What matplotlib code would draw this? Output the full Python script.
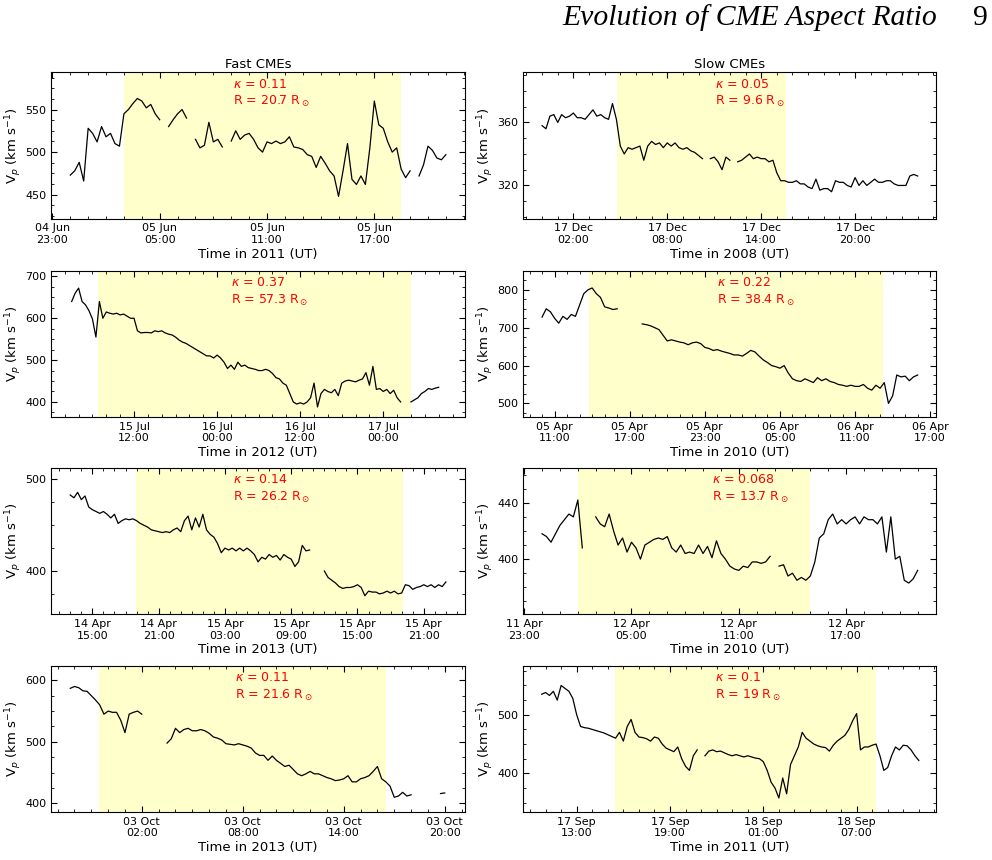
import numpy as np
import pandas as pd
import matplotlib
matplotlib.use('Agg')
import matplotlib.pyplot as plt
import matplotlib.dates as mdates
from matplotlib.ticker import MultipleLocator, AutoMinorLocator

nan = np.nan

# Solar wind proton speed (km/s)
# Fast CMEs (left column)
fast1_start, fast1_step = '2011-06-05 00:00', '15min'
fast1_vp = [473, 478, 488, 466, 528, 522, 512, 530, 518, 522, 510, 507,
            545, 550, 557, 563, 560, 552, 556, 545, 538, nan, 530, 538,
            545, 550, 540, nan, 515, 505, 508, 535, 512, 515, 506, nan,
            513, 525, 515, 520, 522, 515, 505, 500, 512, 510, 513, 510,
            512, 518, 506, 505, 503, 497, 495, 482, 495, 487, 478, 472,
            448, 478, 510, 468, 462, 472, 462, 505, 560, 532, 528, 512,
            500, 505, 480, 470, 478, nan, 472, 485, 507, 502, 493, 491,
            497]

fast2_start, fast2_step = '2012-07-15 03:00', '30min'
fast2_vp = [640, 660, 672, 640, 632, 618, 598, 555, 640, 600,
            615, 612, 610, 612, 608, 610, 605, 600, 600, 570,
            565, 566, 566, 565, 570, 568, 570, 565, 562, 560,
            555, 548, 543, 540, 535, 530, 525, 520, 515, 510,
            510, 505, 512, 505, 495, 480, 488, 478, 495, 485,
            488, 482, 480, 478, 475, 475, 478, 475, 468, 458,
            455, 445, 440, 420, 400, 395, 398, 395, 400, 410,
            445, 388, 420, 430, 425, 422, 430, 415, 445, 450,
            452, 450, 448, 452, 455, 470, 440, 485, 430, 432,
            425, 430, 420, 428, 410, 400, nan, nan, 400, 405,
            410, 420, 425, 432, 430, 433, 435]

fast3_start, fast3_step = '2013-04-14 13:00', '20min'
fast3_vp = [483, 480, 486, 478, 482, 470, 467, 465, 463, 465, 462, 458,
            462, 452, 455, 457, 456, 457, 455, 452, 450, 448, 445, 444,
            443, 442, 443, 442, 445, 447, 443, 455, 460, 445, 458, 448,
            462, 445, 440, 437, 430, 420, 425, 423, 425, 422, 425, 422,
            425, 422, 418, 410, 415, 413, 418, 415, 417, 412, 418, 415,
            413, 405, 410, 428, 422, 423, nan, nan, nan, 400, 393, 390,
            387, 383, 381, 382, 382, 383, 385, 382, 373, 378, 377, 377,
            375, 376, 378, 376, 378, 375, 376, 385, 384, 380, 382, 383,
            385, 383, 385, 382, 385, 383, 388]

fast4_start, fast4_step = '2013-10-02 21:45', '15min'
fast4_vp = [587, 590, 588, 583, 582, 575, 568, 560, 545,
            550, 548, 548, 535, 515, 545, 548, 550, 545, nan, nan, nan,
            nan, nan, 498, 505, 522, 515, 520, 522, 518, 518, 520, 518,
            514, 508, 506, 503, 497, 496, 495, 497, 495, 493, 490, 482,
            478, 478, 470, 477, 470, 465, 460, 462, 455, 448, 445, 448,
            452, 448, 448, 445, 442, 440, 437, 438, 440, 445, 435, 435,
            440, 442, 445, 452, 460, 440, 435, 428, 410, 412, 418, 412,
            414, nan, nan, nan, nan, nan, nan, 416, 417]

# Slow CMEs (right column)
slow1_start, slow1_step = '2008-12-17 00:00', '15min'
slow1_vp = [358, 356, 364, 365, 360, 365, 363, 364, 366, 363, 363, 362,
            365, 368, 364, 365, 363, 362, 372, 362, 345, 340, 344, 343,
            344, 345, 336, 345, 348, 346, 347, 344, 347, 345, 347, 344,
            343, 344, 342, 341, 339, 337, nan, 337, 338, 335, 330, 338,
            336, nan, 335, 336, 338, 340, 337, 338, 337, 337, 335, 336,
            328, 323, 323, 322, 322, 323, 321, 321, 319, 318, 324, 317,
            318, 318, 316, 323, 322, 322, 320, 319, 325, 320, 323, 320,
            322, 324, 322, 322, 323, 323, 321, 320, 320, 320, 326, 327,
            326]

slow2_start, slow2_step = '2010-04-05 10:00', '20min'
slow2_vp = [728, 750, 742, 725, 712, 730, 722, 735, 730, 760, 790, 800,
            805, 790, 780, 755, 752, 748, 750, nan, nan, nan, nan, nan,
            710, 708, 705, 700, 695, 680, 665, 668, 665, 662, 660, 655,
            660, 662, 658, 648, 645, 640, 642, 638, 635, 632, 628, 628,
            625, 632, 640, 636, 625, 615, 608, 600, 597, 593, 600, 580,
            565, 560, 558, 565, 560, 555, 568, 560, 565, 558, 555, 550,
            548, 545, 548, 545, 545, 550, 540, 535, 548, 540, 555, 500,
            520, 575, 570, 572, 560, 570, 575]

slow3_start, slow3_step = '2010-04-12 00:00', '15min'
slow3_vp = [418, 416, 412, 418, 424, 428, 432, 430, 442, 408, nan, nan,
            430, 425, 423, 432, 420, 410, 415, 405, 412, 408, 400, 410,
            412, 414, 415, 414, 416, 408, 405, 410, 404, 405, 404, 410,
            404, 409, 401, 413, 404, 400, 395, 393, 392, 395, 394, 398,
            398, 397, 398, 402, nan, 395, 396, 388, 390, 385, 387, 385,
            388, 398, 415, 418, 428, 432, 425, 428, 425, 428, 430, 425,
            430, 428, 428, 425, 430, 405, 430, 400, 402, 385, 383, 386,
            392]

slow4_start, slow4_step = '2011-09-17 10:45', '15min'
slow4_vp = [535, 538, 533, 540, 525, 550, 545, 540, 528, 500, 480, 478,
            477, 475, 473, 471, 469, 466, 463, 460, 470, 455, 480, 492,
            470, 462, 461, 459, 455, 462, 460, 450, 443, 440, 437, 445,
            425, 412, 405, 430, 440, nan, 430, 438, 440, 437, 438, 435,
            432, 430, 432, 430, 428, 430, 428, 426, 425, 420, 405, 385,
            375, 358, 392, 365, 415, 430, 445, 470, 460, 455, 450, 447,
            445, 444, 438, 448, 455, 460, 465, 475, 490, 502, 440, 445,
            445, 448, 450, 430, 405, 410, 430, 445, 440, 448, 447, 440,
            430, 422]

# CME passage intervals (shaded) and model parameters
fast_shade = [('2011-06-05 03:00', '2011-06-05 18:28'),
              ('2012-07-15 06:49', '2012-07-17 04:00'),
              ('2013-04-14 18:57', '2013-04-15 19:08'),
              ('2013-10-02 23:26', '2013-10-03 16:32')]
slow_shade = [('2008-12-17 04:46', '2008-12-17 15:35'),
              ('2010-04-05 13:44', '2010-04-06 13:16'),
              ('2010-04-12 02:02', '2010-04-12 15:00'),
              ('2011-09-17 15:29', '2011-09-18 08:13')]
fast_kappa = ['0.11', '0.37', '0.14', '0.11']
fast_radius = ['20.7', '57.3', '26.2', '21.6']
slow_kappa = ['0.05', '0.22', '0.068', '0.1']
slow_radius = ['9.6', '38.4', '13.7', '19']
fast_years = ['2011', '2012', '2013', '2013']
slow_years = ['2008', '2010', '2010', '2011']


def plot_panel(ax, start, step, vp, shade, kappa, radius, year, xlim, ylim,
               ymajor, hours, xmajor_h, text_x):
    """
    Draw one proton speed panel with the shaded CME interval.
    """
    times = pd.date_range(start, periods=len(vp), freq=step)
    ax.axvspan(pd.Timestamp(shade[0]), pd.Timestamp(shade[1]),
               color='yellow', alpha=0.2, lw=0, zorder=0)
    ax.plot(times, vp, color='black', lw=0.9)

    ax.set_xlim(pd.Timestamp(xlim[0]), pd.Timestamp(xlim[1]))
    ax.set_ylim(ylim)

    ax.xaxis.set_major_locator(mdates.HourLocator(byhour=hours))
    ax.xaxis.set_minor_locator(
        mdates.HourLocator(interval=xmajor_h // 6))
    ax.xaxis.set_major_formatter(mdates.DateFormatter('%d %b\n%H:%M'))
    ax.yaxis.set_major_locator(MultipleLocator(ymajor))
    ax.yaxis.set_minor_locator(AutoMinorLocator(4))

    ax.tick_params(which='both', direction='in', top=True, right=True,
                   labelsize=8)
    ax.tick_params(which='major', length=4)
    ax.tick_params(which='minor', length=2)

    ax.set_xlabel(f'Time in {year} (UT)', fontsize=9.5, labelpad=2)
    ax.set_ylabel(r'V$_p$ (km s$^{-1}$)', fontsize=9.5, labelpad=1)
    ax.text(text_x, 0.96,
            rf'$\kappa$ = {kappa}' + '\n' + rf'R = {radius} R$_\odot$',
            transform=ax.transAxes, color='red', fontsize=9,
            va='top', ha='left', linespacing=1.3)


fig = plt.figure(figsize=(9.92, 8.6), dpi=100)

rows_bottom = [0.7459, 0.5151, 0.2860, 0.0558]
height = 0.1703
left_fast, left_slow, width = 0.0519, 0.5275, 0.4165

fast_cfg = [
    (fast1_start, fast1_step, fast1_vp,
     ('2011-06-04 22:57', '2011-06-05 22:03'), (422, 594), 50,
     [5, 11, 17, 23], 6, 0.44),
    (fast2_start, fast2_step, fast2_vp,
     ('2012-07-15 00:05', '2012-07-17 11:45'), (364, 714), 100,
     [0, 12], 12, 0.434),
    (fast3_start, fast3_step, fast3_vp,
     ('2013-04-14 11:18', '2013-04-16 00:42'), (353, 513), 100,
     [3, 9, 15, 21], 6, 0.44),
    (fast4_start, fast4_step, fast4_vp,
     ('2013-10-02 20:38', '2013-10-03 21:11'), (386, 624), 100,
     [2, 8, 14, 20], 6, 0.443),
]
slow_cfg = [
    (slow1_start, slow1_step, slow1_vp,
     ('2008-12-16 22:48', '2008-12-18 01:12'), (299, 392), 40,
     [2, 8, 14, 20], 6, 0.464),
    (slow2_start, slow2_step, slow2_vp,
     ('2010-04-05 08:30', '2010-04-06 17:30'), (464, 851), 100,
     [5, 11, 17, 23], 6, 0.468),
    (slow3_start, slow3_step, slow3_vp,
     ('2010-04-11 22:57', '2010-04-12 22:03'), (361, 465), 40,
     [5, 11, 17, 23], 6, 0.457),
    (slow4_start, slow4_step, slow4_vp,
     ('2011-09-17 09:34', '2011-09-18 12:08'), (334, 584), 100,
     [1, 7, 13, 19], 6, 0.465),
]

for i in range(4):
    ax = fig.add_axes([left_fast, rows_bottom[i], width, height])
    start, step, vp, xlim, ylim, ymaj, hours, xmaj, tx = fast_cfg[i]
    plot_panel(ax, start, step, vp, fast_shade[i], fast_kappa[i],
               fast_radius[i], fast_years[i], xlim, ylim, ymaj, hours, xmaj,
               tx)
    if i == 0:
        ax.set_title('Fast CMEs', fontsize=9.5, pad=3)

    ax = fig.add_axes([left_slow, rows_bottom[i], width, height])
    start, step, vp, xlim, ylim, ymaj, hours, xmaj, tx = slow_cfg[i]
    plot_panel(ax, start, step, vp, slow_shade[i], slow_kappa[i],
               slow_radius[i], slow_years[i], xlim, ylim, ymaj, hours, xmaj,
               tx)
    if i == 0:
        ax.set_title('Slow CMEs', fontsize=9.5, pad=3)

# Page header of the paper
fig.text(0.9445, 0.971, 'Evolution of CME Aspect Ratio',
         family='Liberation Serif', style='italic', fontsize=21.4,
         ha='right', va='baseline')
fig.text(0.9955, 0.971, '9', family='Liberation Serif', fontsize=21.4,
         ha='right', va='baseline')

fig.savefig('out.png', dpi=100)
